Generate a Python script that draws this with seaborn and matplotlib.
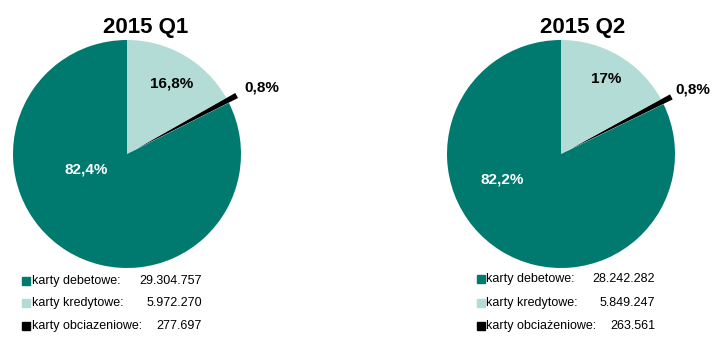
import matplotlib
matplotlib.use("Agg")
import matplotlib.pyplot as plt
from matplotlib.lines import Line2D
import seaborn as sns

sns.set_theme(style="white")
plt.rcParams['font.family'] = ['Liberation Sans', 'DejaVu Sans']

# ---- data ----
titles = ["2015 Q1", "2015 Q2"]
categories_q1 = ["karty debetowe:", "karty kredytowe:", "karty obciazeniowe:"]
categories_q2 = ["karty debetowe:", "karty kredytowe:", "karty obciażeniowe:"]
shares_q1 = [82.4, 16.8, 0.8]
shares_q2 = [82.2, 17.0, 0.8]
pct_labels_q1 = ["82,4%", "16,8%", "0,8%"]
pct_labels_q2 = ["82,2%", "17%", "0,8%"]
counts_q1 = ["29.304.757", "5.972.270", "277.697"]
counts_q2 = ["28.242.282", "5.849.247", "263.561"]

colors = ["#007A6E", "#B2DCD5", "#000000"]
label_colors = ["white", "black", "black"]

W, H = 719, 337
fig = plt.figure(figsize=(W / 100, H / 100), dpi=100)

R = 114  # radius in px
panels = [
    dict(cx=127, cy=154, title_x=146, data=shares_q1, pl=pct_labels_q1,
         cats=categories_q1, counts=counts_q1,
         lpos=[(-0.36, -0.14), (0.39, 0.62), (1.18, 0.58)],
         leg_sq=26, leg_txt=32, leg_val=202, leg_y=[281, 303, 326]),
    dict(cx=561, cy=154, title_x=583, data=shares_q2, pl=pct_labels_q2,
         cats=categories_q2, counts=counts_q2,
         lpos=[(-0.52, -0.22), (0.40, 0.66), (1.16, 0.57)],
         leg_sq=481, leg_txt=486, leg_val=655, leg_y=[279, 303, 326]),
]

title_list = titles
for i, p in enumerate(panels):
    half = 1.25 * R
    ax = fig.add_axes([(p["cx"] - half) / W, (H - p["cy"] - half) / H,
                       2 * half / W, 2 * half / H])
    # order drawn clockwise from 12 o'clock: kredytowe, obciazeniowe, debetowe
    vals = [p["data"][1], p["data"][2], p["data"][0]]
    cols = [colors[1], colors[2], colors[0]]
    ax.pie(vals, colors=cols, startangle=90, counterclock=False,
           explode=[0, 0.09, 0], wedgeprops=dict(linewidth=0))
    ax.set_xlim(-1.25, 1.25)
    ax.set_ylim(-1.25, 1.25)
    ax.set_aspect("equal")
    ax.axis("off")
    for j, (lx, ly) in enumerate(p["lpos"]):
        ax.text(lx, ly, p["pl"][j], ha="center", va="center",
                fontsize=11, fontweight="bold", color=label_colors[j])
    fig.text(p["title_x"] / W, 1 - 27 / H, title_list[i], ha="center", va="center",
             fontsize=16, fontweight="bold", color="black")
    for j in range(3):
        y = 1 - p["leg_y"][j] / H
        fig.add_artist(Line2D([p["leg_sq"] / W], [y], marker="s", markersize=5.2,
                              color=colors[j], linestyle="none",
                              transform=fig.transFigure))
        fig.text(p["leg_txt"] / W, y, p["cats"][j], ha="left", va="center",
                 fontsize=9, color="black")
        fig.text(p["leg_val"] / W, y, p["counts"][j], ha="right", va="center",
                 fontsize=9, color="black")

fig.savefig("out.png", dpi=100, facecolor="white")
